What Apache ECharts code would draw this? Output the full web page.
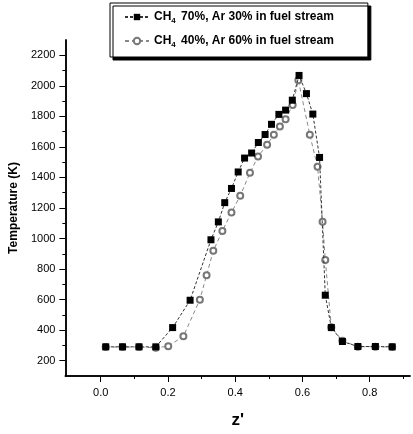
<!DOCTYPE html>
<html>
<head>
<meta charset="utf-8">
<script src="https://cdn.jsdelivr.net/npm/echarts@6/dist/echarts.min.js"></script>
<style>html,body{margin:0;padding:0;background:#fff}#c{width:413px;height:434px}</style>
</head>
<body>
<div id="c"></div>
<script>
const seriesNames = ['CH4 70%, Ar 30% in fuel stream', 'CH4 40%, Ar 60% in fuel stream'];
const zA = [0.015,0.065,0.114,0.164,0.214,0.266,0.328,0.350,0.369,0.389,0.409,0.428,0.449,0.469,0.489,0.508,0.530,0.550,0.570,0.590,0.612,0.631,0.651,0.668,0.686,0.719,0.765,0.817,0.867];
const tA = [291,291,291,291,417,596,992,1109,1235,1328,1436,1527,1560,1629,1681,1748,1813,1841,1906,2068,1949,1815,1531,629,417,326,293,293,291];
const zB = [0.015,0.065,0.114,0.164,0.201,0.246,0.295,0.315,0.335,0.362,0.389,0.415,0.444,0.468,0.495,0.515,0.533,0.550,0.571,0.588,0.622,0.645,0.660,0.668,0.686,0.719,0.765,0.817,0.867];
const tB = [290,290,290,285,295,360,600,760,920,1050,1170,1280,1430,1538,1614,1680,1733,1781,1874,2036,1680,1470,1110,860,420,330,292,292,290];
const xMajor = [0.0,0.2,0.4,0.6,0.8];
const xMinor = [0.1,0.3,0.5,0.7,0.9];
const yMajor = [200,400,600,800,1000,1200,1400,1600,1800,2000,2200];
const yMinor = [300,500,700,900,1100,1300,1500,1700,1900,2100];

const font = '"Liberation Sans Narrow","Arial Narrow","Liberation Sans",Arial,sans-serif';
const chart = echarts.init(document.getElementById('c'));
const xBase = {type:'value', min:-0.105, max:0.92, position:'bottom', splitLine:{show:false}, axisLine:{onZero:false, lineStyle:{color:'#000',width:1.5}}};
const yBase = {type:'value', min:100, max:2300, position:'left', splitLine:{show:false}, axisLine:{onZero:false, lineStyle:{color:'#000',width:1.5}}};
chart.setOption({
  animation:false,
  backgroundColor:'#fff',
  grid:{left:65, right:3, top:40, bottom:56},
  legend:{
    orient:'vertical', left:110, top:3,
    padding:[8,34,8,14], itemGap:10, itemWidth:24, itemHeight:8,
    backgroundColor:'#fff', borderColor:'#000', borderWidth:1,
    shadowColor:'#000', shadowBlur:0, shadowOffsetX:3, shadowOffsetY:3,
    data: seriesNames,
    formatter: n => n.replace('CH4', 'CH{s|4}'),
    textStyle:{fontFamily:'"Liberation Sans",Arial,sans-serif', fontWeight:'bold', fontSize:12, color:'#000',
      rich:{s:{fontSize:8, fontWeight:'bold', verticalAlign:'bottom', padding:[8,2,0,0], fontFamily:'"Liberation Sans",Arial,sans-serif'}}}
  },
  xAxis:[
    Object.assign({}, xBase, {
      name:"z'", nameLocation:'middle', nameGap:36,
      nameTextStyle:{fontFamily:'"Liberation Sans",Arial,sans-serif', fontWeight:'bold', fontSize:17, color:'#000'},
      axisTick:{customValues:xMajor, length:6, lineStyle:{color:'#000'}},
      axisLabel:{customValues:xMajor, margin:11, fontFamily:font, fontSize:11, color:'#000', formatter:v=>v.toFixed(1)}
    }),
    Object.assign({}, xBase, {
      axisTick:{customValues:xMinor, length:3, lineStyle:{color:'#000'}},
      axisLabel:{show:false}
    })
  ],
  yAxis:[
    Object.assign({}, yBase, {
      name:'Temperature (K)', nameLocation:'middle', nameGap:38,
      nameTextStyle:{fontFamily:'"Liberation Sans",Arial,sans-serif', fontWeight:'bold', fontSize:12, color:'#000'},
      axisTick:{customValues:yMajor, length:6, lineStyle:{color:'#000'}},
      axisLabel:{customValues:yMajor, margin:10, fontFamily:font, fontSize:11, color:'#000', formatter:v=>String(v)}
    }),
    Object.assign({}, yBase, {
      axisTick:{customValues:yMinor, length:3, lineStyle:{color:'#000'}},
      axisLabel:{show:false}
    })
  ],
  series:[
    {name:seriesNames[0], type:'line', xAxisIndex:0, yAxisIndex:0,
      data: zA.map((z,i)=>[z,tA[i]]),
      symbol:'rect', symbolSize:7, itemStyle:{color:'#000'},
      lineStyle:{color:'#333', width:1, type:[3,2]}, z:3},
    {name:seriesNames[1], type:'line', xAxisIndex:0, yAxisIndex:0,
      data: zB.map((z,i)=>[z,tB[i]]),
      symbol:'emptyCircle', symbolSize:6, itemStyle:{color:'#777', borderWidth:1},
      lineStyle:{color:'#888', width:1, type:[4,3]}, z:2}
  ]
});
</script>
</body>
</html>
